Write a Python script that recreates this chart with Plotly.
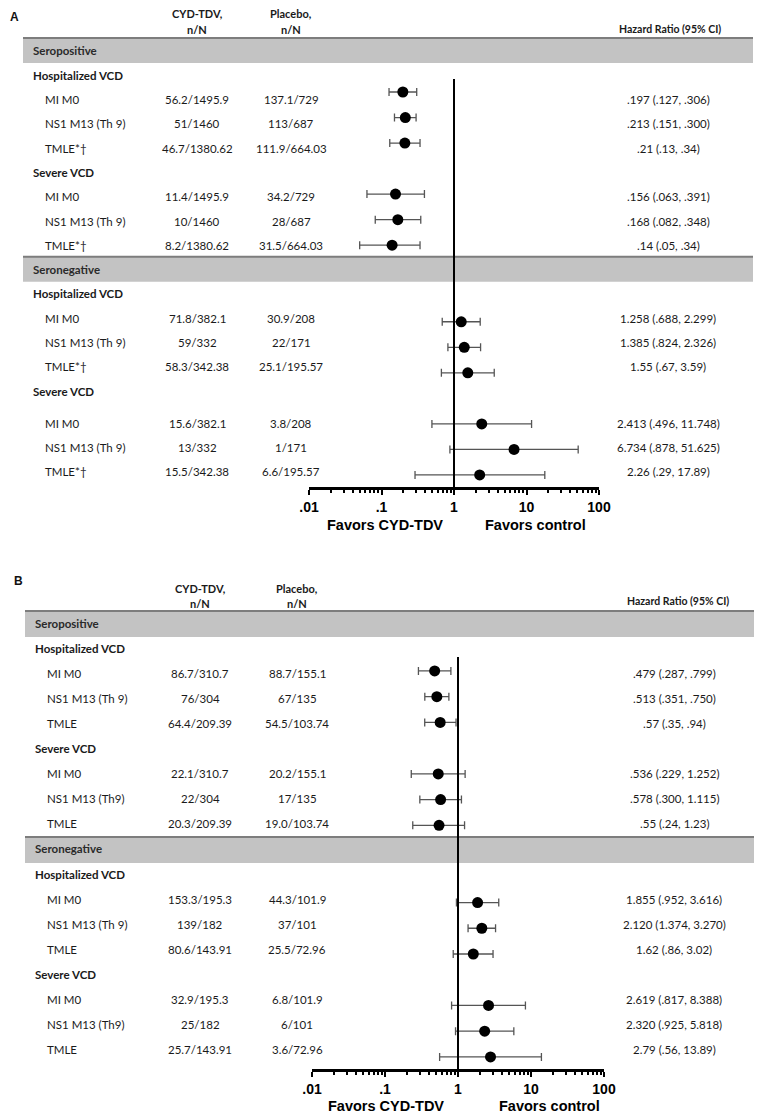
import plotly.graph_objects as go

W, H = 762, 1113          # target screenshot size
OFF = 8                   # page body margin offset
FW, FH = W - OFF, H - OFF # figure size

# ---------------- data ----------------
SECTIONS = ["Seropositive", "Seronegative"]
OUTCOMES = ["Hospitalized VCD", "Severe VCD"]

a_methods = ["MI M0", "NS1 M13 (Th 9)", "TMLE*†"] * 4
a_cyd = ["56.2/1495.9", "51/1460", "46.7/1380.62",
         "11.4/1495.9", "10/1460", "8.2/1380.62",
         "71.8/382.1", "59/332", "58.3/342.38",
         "15.6/382.1", "13/332", "15.5/342.38"]
a_placebo = ["137.1/729", "113/687", "111.9/664.03",
             "34.2/729", "28/687", "31.5/664.03",
             "30.9/208", "22/171", "25.1/195.57",
             "3.8/208", "1/171", "6.6/195.57"]
a_hr = [0.197, 0.213, 0.21, 0.156, 0.168, 0.14, 1.258, 1.385, 1.55, 2.413, 6.734, 2.26]
a_lo = [0.127, 0.151, 0.13, 0.063, 0.082, 0.05, 0.688, 0.824, 0.67, 0.496, 0.878, 0.29]
a_hi = [0.306, 0.300, 0.34, 0.391, 0.348, 0.34, 2.299, 2.326, 3.59, 11.748, 51.625, 17.89]
a_hr_text = [".197 (.127, .306)", ".213 (.151, .300)", ".21 (.13, .34)",
             ".156 (.063, .391)", ".168 (.082, .348)", ".14 (.05, .34)",
             "1.258 (.688, 2.299)", "1.385 (.824, 2.326)", "1.55 (.67, 3.59)",
             "2.413 (.496, 11.748)", "6.734 (.878, 51.625)", "2.26 (.29, 17.89)"]

b_methods = ["MI M0", "NS1 M13 (Th 9)", "TMLE",
             "MI M0", "NS1 M13 (Th9)", "TMLE",
             "MI M0", "NS1 M13 (Th 9)", "TMLE",
             "MI M0", "NS1 M13 (Th9)", "TMLE"]
b_cyd = ["86.7/310.7", "76/304", "64.4/209.39",
         "22.1/310.7", "22/304", "20.3/209.39",
         "153.3/195.3", "139/182", "80.6/143.91",
         "32.9/195.3", "25/182", "25.7/143.91"]
b_placebo = ["88.7/155.1", "67/135", "54.5/103.74",
             "20.2/155.1", "17/135", "19.0/103.74",
             "44.3/101.9", "37/101", "25.5/72.96",
             "6.8/101.9", "6/101", "3.6/72.96"]
b_hr = [0.479, 0.513, 0.57, 0.536, 0.578, 0.55, 1.855, 2.120, 1.62, 2.619, 2.320, 2.79]
b_lo = [0.287, 0.351, 0.35, 0.229, 0.300, 0.24, 0.952, 1.374, 0.86, 0.817, 0.925, 0.56]
b_hi = [0.799, 0.750, 0.94, 1.252, 1.115, 1.23, 3.616, 3.270, 3.02, 8.388, 5.818, 13.89]
b_hr_text = [".479 (.287, .799)", ".513 (.351, .750)", ".57 (.35, .94)",
             ".536 (.229, 1.252)", ".578 (.300, 1.115)", ".55 (.24, 1.23)",
             "1.855 (.952, 3.616)", "2.120 (1.374, 3.270)", "1.62 (.86, 3.02)",
             "2.619 (.817, 8.388)", "2.320 (.925, 5.818)", "2.79 (.56, 13.89)"]

TICK_VALS = [0.01, 0.1, 1, 10, 100]
TICK_TEXT = [".01", ".1", "1", "10", "100"]

# ---------------- layout helpers ----------------
BODY = "Lato, 'Open Sans', sans-serif"
AXF = "'Liberation Sans', Arial, sans-serif"
TXT = "#1a1a1a"

def px(x):
    return (x - OFF) / FW

def py(y):
    return 1 - (y - OFF) / FH

annotations = []
shapes = []

def txt(x, y, s, size=11.5, bold=False, anchor="left", family=BODY, color=TXT, yanchor="middle"):
    annotations.append(dict(
        x=px(x), y=py(y), xref="paper", yref="paper",
        text=f"<b>{s}</b>" if bold else s, showarrow=False,
        xanchor=anchor, yanchor=yanchor,
        font=dict(size=size, family=family, color=color)))

def build_rows(methods):
    rows = []
    k = 0
    for sec in SECTIONS:
        rows.append(("band", sec, None))
        for out in OUTCOMES:
            rows.append(("cat", out, None))
            for _ in range(3):
                rows.append(("item", methods[k], k))
                k += 1
    return rows

def y_range(c, s):
    # screenshot pixel = c + s * index  -> reversed axis range over full figure
    c0 = c - OFF
    return [(FH - c0) / s, -c0 / s]

panels = [
    dict(letter="A", letter_xy=(8, 8), methods=a_methods, cyd=a_cyd, pla=a_placebo,
         hr=a_hr, lo=a_lo, hi=a_hi, hrt=a_hr_text,
         head_y=(14, 29), col_x=(197, 291, 668), hr_head_xy=(670, 29),
         text_y=lambda i: 51 + 24.3 * i + (7.5 if i >= 15 else 0),
         mark=(40.94, 25.53),
         band_x=(23, 753), band_h=25, band_off=13,
         lab_x=(31, 43),
         ax_dom=(309, 599), ax_y=488, vline_top=79,
         fav_y=525, fav_x=(385, 535), xa="x", ya="y"),
    dict(letter="B", letter_xy=(12, 572), methods=b_methods, cyd=b_cyd, pla=b_placebo,
         hr=b_hr, lo=b_lo, hi=b_hi, hrt=b_hr_text,
         head_y=(588, 603), col_x=(200, 297, 674), hr_head_xy=(678, 601),
         text_y=lambda i: 623 + 25.1 * i,
         mark=(619.5, 25.73),
         band_x=(25, 762), band_h=26, band_off=12,
         lab_x=(33, 45),
         ax_dom=(312, 604), ax_y=1070, vline_top=657,
         fav_y=1106, fav_x=(386, 549), xa="x2", ya="y2"),
]

fig = go.Figure()
layout_axes = {}
minor_vals = [m * 10 ** e for e in range(-2, 2) for m in range(2, 10)]

for n, P in enumerate(panels):
    rows = build_rows(P["methods"])
    txt(P["letter_xy"][0], P["letter_xy"][1], P["letter"], size=12, bold=True,
        family=AXF, color="#111", yanchor="top")
    cx, plx, hrx = P["col_x"]
    txt(cx, P["head_y"][0], "CYD-TDV,", size=11, bold=True, anchor="center")
    txt(cx, P["head_y"][1], "n/N", size=11, bold=True, anchor="center")
    txt(plx, P["head_y"][0], "Placebo,", size=11, bold=True, anchor="center")
    txt(plx, P["head_y"][1], "n/N", size=11, bold=True, anchor="center")
    txt(P["hr_head_xy"][0], P["hr_head_xy"][1], "Hazard Ratio (95% CI)", size=10.5, bold=True, anchor="center")

    item_idx = []
    for i, (kind, label, k) in enumerate(rows):
        yy = P["text_y"](i)
        if kind == "band":
            top = yy - P["band_off"]
            shapes.append(dict(type="rect", xref="paper", yref="paper",
                               x0=px(P["band_x"][0]), x1=px(P["band_x"][1]),
                               y0=py(top), y1=py(top + P["band_h"]),
                               fillcolor="#c3c3c3", line=dict(width=0), layer="below"))
            shapes.append(dict(type="line", xref="paper", yref="paper",
                               x0=px(P["band_x"][0]), x1=px(P["band_x"][1]),
                               y0=py(top), y1=py(top),
                               line=dict(color="#7d7d7d", width=2), layer="below"))
            txt(P["lab_x"][0], yy, label, size=11.5, bold=True, color="#2a2a2a")
        elif kind == "cat":
            txt(P["lab_x"][0], yy, label, size=11.5, bold=True)
        else:
            txt(P["lab_x"][1], yy, label)
            txt(cx, yy, P["cyd"][k], anchor="center")
            txt(plx, yy, P["pla"][k], anchor="center")
            txt(hrx, yy, P["hrt"][k], anchor="center")
            item_idx.append(i)

    hr, lo, hi = P["hr"], P["lo"], P["hi"]
    fig.add_trace(go.Scatter(
        x=hr, y=item_idx, xaxis=P["xa"], yaxis=P["ya"], mode="markers",
        marker=dict(size=11, color="black"),
        error_x=dict(type="data", symmetric=False,
                     array=[h - v for h, v in zip(hi, hr)],
                     arrayminus=[v - l for v, l in zip(hr, lo)],
                     color="#555555", thickness=1.3, width=4),
        showlegend=False, hoverinfo="skip"))

    # reference line at HR = 1
    shapes.append(dict(type="line", xref=P["xa"], yref="paper", x0=1, x1=1,
                       y0=py(P["vline_top"]), y1=py(P["ax_y"]),
                       line=dict(color="black", width=2)))

    xkey = "xaxis" if n == 0 else "xaxis2"
    ykey = "yaxis" if n == 0 else "yaxis2"
    layout_axes[xkey] = dict(
        type="log", range=[-2, 2], domain=[px(P["ax_dom"][0]), px(P["ax_dom"][1])],
        anchor="free", position=py(P["ax_y"]), automargin=False,
        showline=True, linecolor="black", linewidth=2.5, showgrid=False, zeroline=False,
        tickmode="array", tickvals=TICK_VALS, ticktext=[f"<b>{t}</b>" for t in TICK_TEXT],
        ticks="outside", ticklen=5, tickwidth=2, tickcolor="black",
        tickfont=dict(family=AXF, size=14, color="black"),
        minor=dict(tickmode="array", tickvals=minor_vals, ticks="outside",
                   ticklen=3, tickwidth=1.5, tickcolor="black", showgrid=False),
    )
    c, s = P["mark"]
    layout_axes[ykey] = dict(range=y_range(c, s), domain=[0, 1], visible=False,
                             anchor=P["xa"], showgrid=False, zeroline=False, fixedrange=True)

    txt(P["fav_x"][0], P["fav_y"], "Favors CYD-TDV", size=14.5, bold=True, anchor="center", family=AXF, color="black")
    txt(P["fav_x"][1], P["fav_y"], "Favors control", size=14.5, bold=True, anchor="center", family=AXF, color="black")

fig.update_layout(
    width=FW, height=FH, margin=dict(l=0, r=0, t=0, b=0, autoexpand=False),
    paper_bgcolor="white", plot_bgcolor="rgba(0,0,0,0)",
    annotations=annotations, shapes=shapes, showlegend=False,
    **layout_axes)

fig.write_html("out.html")
